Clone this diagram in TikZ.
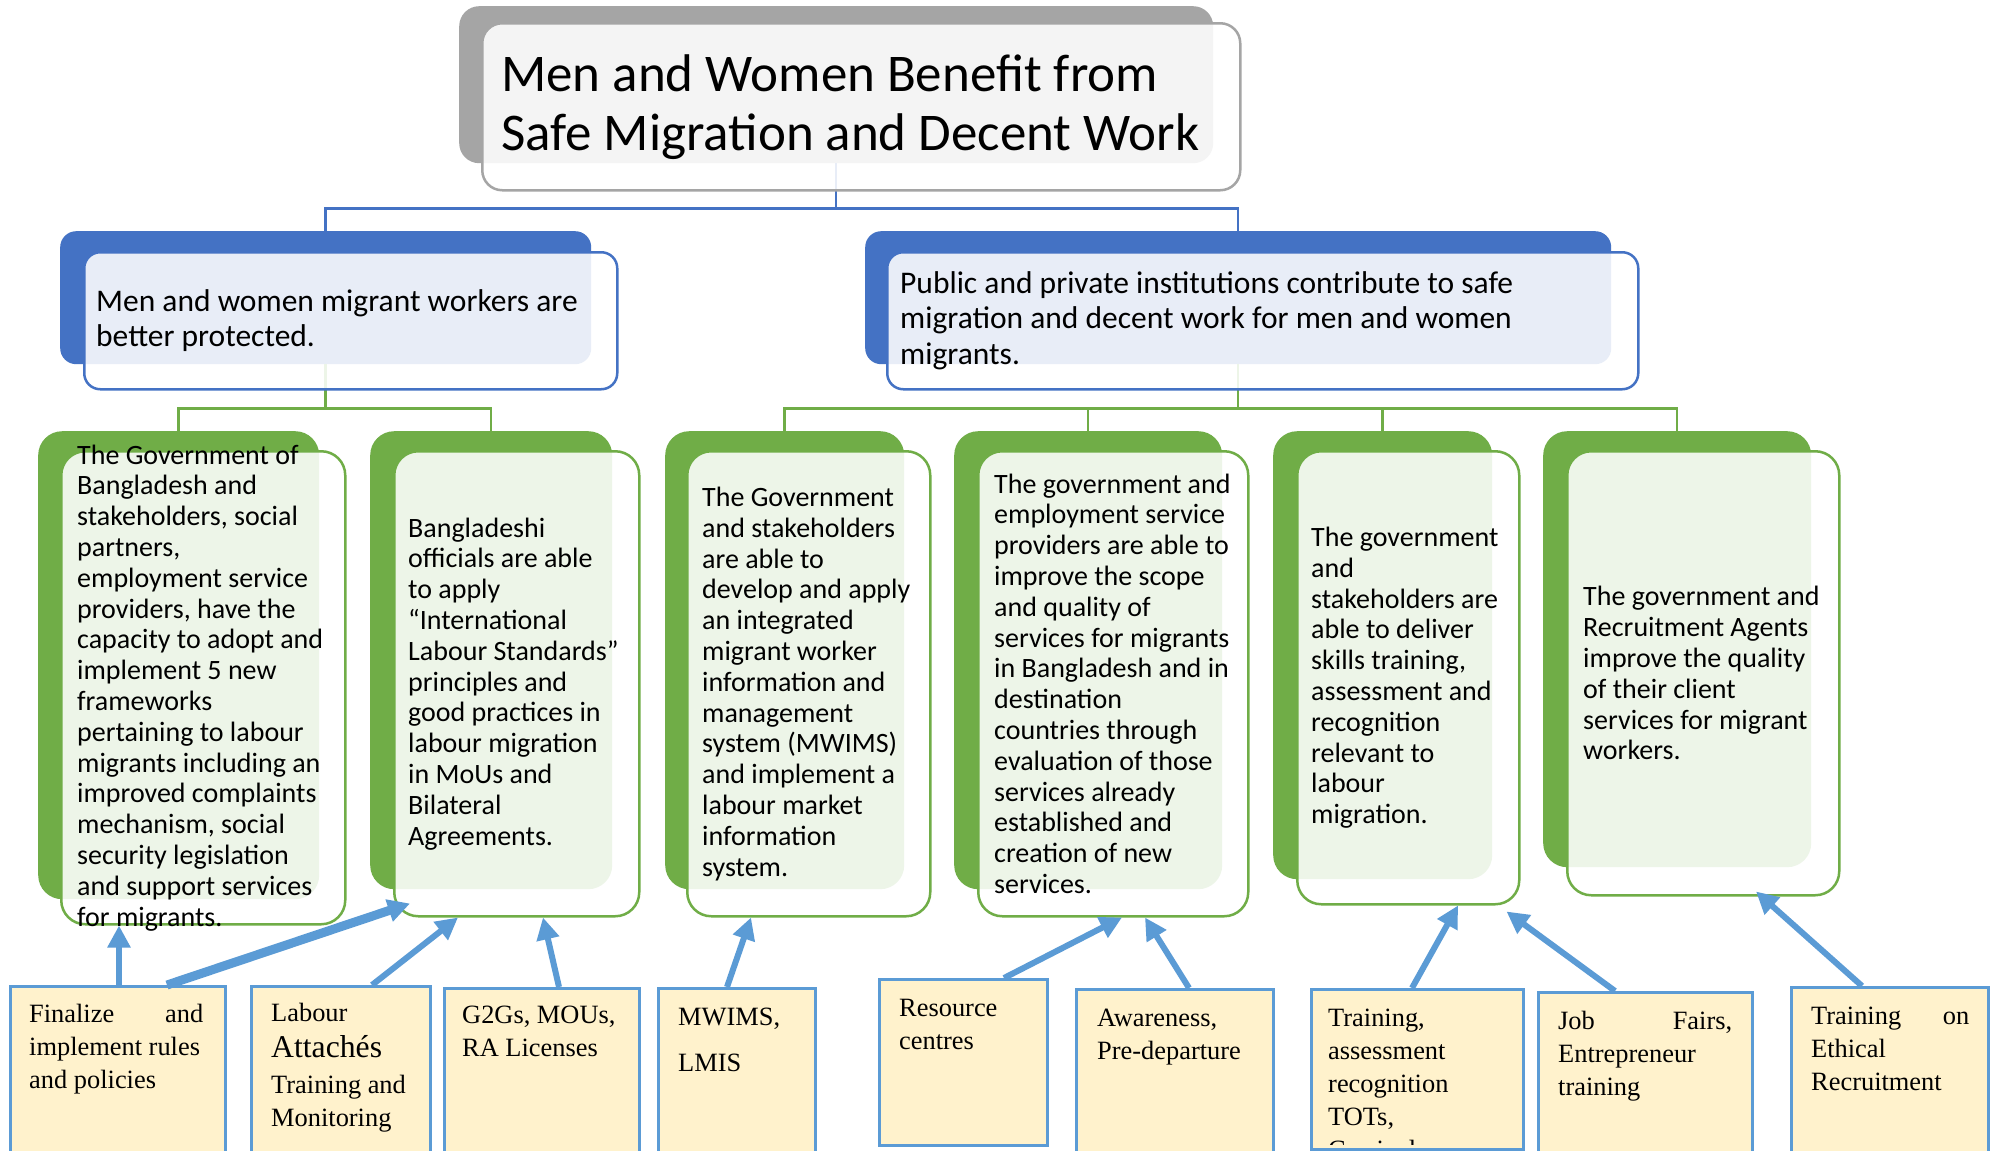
\documentclass[tikz,border=0pt]{standalone}
\usepackage{fontspec}
\setmainfont{Carlito}
\newfontfamily\tnr{Liberation Serif}
\usepackage{tikz}
\usetikzlibrary{arrows.meta, positioning}

\definecolor{goalgray}{HTML}{A5A5A5}
\definecolor{outblue}{HTML}{4472C4}
\definecolor{resgreen}{HTML}{70AD47}
\definecolor{actblue}{HTML}{5B9BD5}
\definecolor{actfill}{HTML}{FFF2CC}

\begin{document}
\begin{tikzpicture}[
  x=1pt, y=-1pt,
  bk/.style={anchor=north west, inner sep=0pt, rounded corners=#1},
  fr/.style={anchor=north west, inner sep=0pt, line width=2.5pt, fill=white, fill opacity=0.88},
  lbl/.style={inner sep=0pt, align=left},
  res/.style={lbl, font=\fontsize{28}{30.8}\selectfont},
  act/.style={anchor=north west, inner sep=0pt, draw=actblue, line width=2.5pt, fill=actfill},
  acttxt/.style={anchor=north west, inner sep=0pt, align=left, font=\tnr\fontsize{26.4}{33}\selectfont},
  link/.style={line width=2.5pt},
  feed/.style={-{Triangle[length=22pt,width=22pt]}, line width=6pt, draw=actblue}
]
\useasboundingbox (0,0) rectangle (2000,1151);
\fill[white] (0,0) rectangle (2000,1151);
\clip (0,0) rectangle (2000,1151);

% goal
\node[bk=20pt, fill=goalgray, minimum width=754pt, minimum height=157pt] (goal-bk) at (459,6) {};
% outcomes
\node[bk=16pt, fill=outblue, minimum width=531pt, minimum height=133pt] (prot-bk) at (60,231) {};
\node[bk=16pt, fill=outblue, minimum width=746pt, minimum height=133pt] (inst-bk) at (865,231) {};
% results
\node[bk=24pt, fill=resgreen, minimum width=281pt, minimum height=468pt] (gob-bk) at (38,431) {};
\node[bk=24pt, fill=resgreen, minimum width=242pt, minimum height=458pt] (ils-bk) at (370,431) {};
\node[bk=24pt, fill=resgreen, minimum width=239pt, minimum height=458pt] (mwims-bk) at (665,431) {};
\node[bk=24pt, fill=resgreen, minimum width=268pt, minimum height=458pt] (serv-bk) at (954,431) {};
\node[bk=24pt, fill=resgreen, minimum width=219pt, minimum height=448pt] (skill-bk) at (1273,431) {};
\node[bk=24pt, fill=resgreen, minimum width=268pt, minimum height=436pt] (recr-bk) at (1543,431) {};

\draw[link, outblue] (goal-bk.south) -- ++(0,45) -| (prot-bk.north);
\draw[link, outblue] (goal-bk.south) -- ++(0,45) -| (inst-bk.north);
\draw[link, resgreen] (prot-bk.south) -- ++(0,44) -| (gob-bk.north);
\draw[link, resgreen] (prot-bk.south) -- ++(0,44) -| (ils-bk.north);
\foreach \r in {mwims,serv,skill,recr}
  \draw[link, resgreen] (inst-bk.south) -- ++(0,44) -| (\r-bk.north);

\node[fr, draw=goalgray, rounded corners=20pt, minimum width=758pt, minimum height=167pt] (goal) at (481,22) {};
\node[fr, draw=outblue, rounded corners=16pt, minimum width=533pt, minimum height=137pt] (prot) at (83,251) {};
\node[fr, draw=outblue, rounded corners=16pt, minimum width=751pt, minimum height=137pt] (inst) at (886,251) {};
\node[fr, draw=resgreen, rounded corners=24pt, minimum width=284pt, minimum height=473pt] (gob) at (60,450) {};
\node[fr, draw=resgreen, rounded corners=24pt, minimum width=245pt, minimum height=465pt] (ils) at (393,450) {};
\node[fr, draw=resgreen, rounded corners=24pt, minimum width=243pt, minimum height=465pt] (mwims) at (686,450) {};
\node[fr, draw=resgreen, rounded corners=24pt, minimum width=270pt, minimum height=465pt] (serv) at (977,450) {};
\node[fr, draw=resgreen, rounded corners=24pt, minimum width=222pt, minimum height=453pt] (skill) at (1296,450) {};
\node[fr, draw=resgreen, rounded corners=24pt, minimum width=272pt, minimum height=444pt] (recr) at (1566,450) {};

\node[lbl, font=\fontsize{53}{59}\selectfont, right=20pt of goal.west] (goal-t)
  {Men and Women Benefit from\\Safe Migration and Decent Work};
\node[lbl, font=\fontsize{31.5}{35.5}\selectfont, right=13pt of prot.west] (prot-t)
  {Men and women migrant workers are\\better protected.};
\node[lbl, font=\fontsize{31.5}{35.5}\selectfont, right=14pt of inst.west] (inst-t)
  {Public and private institutions contribute to safe\\migration and decent work for men and women\\migrants.};

\node[res, right=17pt of gob.west] (gob-t)
  {The Government of\\Bangladesh and\\stakeholders, social\\partners,\\employment service\\providers, have the\\capacity to adopt and\\implement 5 new\\frameworks\\pertaining to labour\\migrants including an\\improved complaints\\mechanism, social\\security legislation\\and support services\\for migrants.};
\node[res, right=15pt of ils.west] (ils-t)
  {Bangladeshi\\officials are able\\to apply\\“International\\Labour Standards”\\principles and\\good practices in\\labour migration\\in MoUs and\\Bilateral\\Agreements.};
\node[res, right=16pt of mwims.west] (mwims-t)
  {The Government\\and stakeholders\\are able to\\develop and apply\\an integrated\\migrant worker\\information and\\management\\system (MWIMS)\\and implement a\\labour market\\information\\system.};
\node[res, right=17pt of serv.west] (serv-t)
  {The government and\\employment service\\providers are able to\\improve the scope\\and quality of\\services for migrants\\in Bangladesh and in\\destination\\countries through\\evaluation of those\\services already\\established and\\creation of new\\services.};
\node[res, right=15pt of skill.west] (skill-t)
  {The government\\and\\stakeholders are\\able to deliver\\skills training,\\assessment and\\recognition\\relevant to\\labour\\migration.};
\node[res, right=17pt of recr.west] (recr-t)
  {The government and\\Recruitment Agents\\improve the quality\\of their client\\services for migrant\\workers.};

% activities
\node[act, minimum width=215pt, minimum height=180pt] (rules) at (9,985) {};
\node[act, minimum width=179pt, minimum height=180pt] (attache) at (250,985) {};
\node[act, minimum width=195pt, minimum height=180pt] (g2g) at (443,987) {};
\node[act, minimum width=157pt, minimum height=180pt] (lmis) at (657,987) {};
\node[act, minimum width=168pt, minimum height=166pt] (rescen) at (878,978) {};
\node[act, minimum width=197pt, minimum height=180pt] (aware) at (1075,988) {};
\node[act, minimum width=212pt, minimum height=160pt] (train) at (1310,988) {};
\node[act, minimum width=214pt, minimum height=180pt] (jobfair) at (1537,991) {};
\node[act, minimum width=197pt, minimum height=180pt] (ethic) at (1790,986) {};

\node[acttxt, below right=19pt and 20pt of rules.north west] (rules-t)
  {\makebox[174pt][s]{Finalize and}\\implement rules\\and policies};
\node[acttxt, below right=18pt and 21pt of attache.north west] (attache-t)
  {Labour\\[3pt]{\fontsize{31.7}{36}\selectfont Attachés}\\[3pt]Training and\\Monitoring};
\node[acttxt, below right=19pt and 19pt of g2g.north west] (g2g-t)
  {G2Gs, MOUs,\\RA Licenses};
\node[acttxt, below right=21pt and 21pt of lmis.north west] (lmis-t)
  {MWIMS,\\[13pt]LMIS};
\node[acttxt, below right=21pt and 21pt of rescen.north west] (rescen-t)
  {Resource\\centres};
\node[acttxt, below right=21pt and 22pt of aware.north west] (aware-t)
  {Awareness,\\Pre-departure};
\begin{scope}
\clip (train.north west) rectangle ([yshift=6pt]train.south east);
\node[acttxt, below right=21pt and 18pt of train.north west] (train-t)
  {Training,\\assessment\\recognition\\TOTs,\\Curricula};
\end{scope}
\node[acttxt, below right=20pt and 21pt of jobfair.north west] (jobfair-t)
  {\makebox[174pt][s]{Job Fairs,}\\Entrepreneur\\training};
\node[acttxt, below right=21pt and 21pt of ethic.north west] (ethic-t)
  {\makebox[158pt][s]{Training on}\\Ethical\\Recruitment};

\draw[feed] ([xshift=110pt]rules.north west) -- ([xshift=59pt]gob.south west);
\draw[feed, line width=9pt] ([xshift=158pt]rules.north west) -- ([xshift=17pt,yshift=14pt]ils.south west);
\draw[feed] ([xshift=122pt]attache.north west) -- ([xshift=65pt]ils.south west);
\draw[feed] ([xshift=116pt]g2g.north west) -- ([xshift=150pt]ils.south west);
\draw[feed] ([xshift=70pt]lmis.north west) -- ([xshift=65pt]mwims.south west);
\draw[feed] ([xshift=126pt]rescen.north west) -- ([xshift=145pt]serv.south west);
\draw[feed] ([xshift=114pt]aware.north west) -- ([xshift=168pt]serv.south west);
\draw[feed] ([xshift=102pt]train.north west) -- ([xshift=162pt]skill.south west);
\draw[feed] ([xshift=78pt]jobfair.north west) -- ([xshift=-14pt,yshift=-6pt]skill.south east);
\draw[feed] ([xshift=72pt]ethic.north west) -- ([xshift=190pt,yshift=5pt]recr.south west);
\end{tikzpicture}
\end{document}
